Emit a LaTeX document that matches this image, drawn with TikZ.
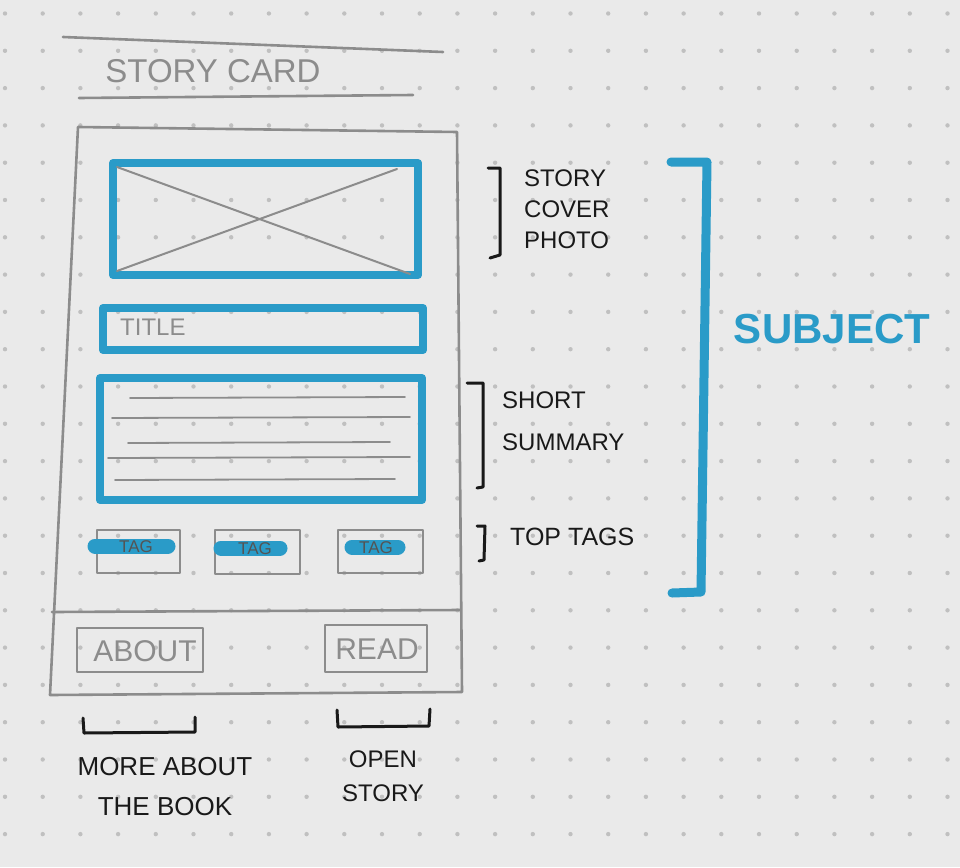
\documentclass[tikz,border=0pt]{standalone}
\usepackage{fontspec}
\setmainfont{Liberation Sans}
\definecolor{paper}{RGB}{234,234,234}
\definecolor{dotgray}{RGB}{192,192,192}
\definecolor{pencilgray}{RGB}{140,140,140}
\definecolor{markerblue}{RGB}{42,155,200}
\definecolor{inkblack}{RGB}{25,25,25}
\begin{document}
\begin{tikzpicture}[x=1pt,y=-1pt,
  pencil/.style={draw=pencilgray, line width=2.6pt, line cap=round, line join=round},
  thinpencil/.style={draw=pencilgray, line width=1.8pt, line cap=round},
  marker/.style={draw=markerblue, line width=8pt, line cap=round, line join=round},
  pen/.style={draw=inkblack, line width=3pt, line cap=round, line join=round},
  bluebox/.style={marker, rectangle, inner sep=0pt},
  graybox/.style={pencil, rectangle, inner sep=0pt},
  pencillabel/.style={text=pencilgray, inner sep=0pt},
  taglabel/.style={text=pencilgray!60!black, inner sep=0pt, font=\fontsize{17}{17}\selectfont},
  penlabel/.style={text=inkblack, inner sep=0pt, anchor=west, align=left,
    font=\fontsize{24}{31}\selectfont},
  highlight/.style={draw=markerblue, line width=15pt, line cap=round}
]
% paper
\fill[paper] (0,0) rectangle (960,867);
\useasboundingbox (0,0) rectangle (960,867);
% dot grid of the notebook page
\foreach \i in {0,...,25}
  \foreach \j in {0,...,23}
    \fill[dotgray] ({5+37.7*\i},{13.5+37.3*\j}) circle (2.2);

% heading
\draw[pencil] (63,37) -- (443,52);
\node[pencillabel, font=\fontsize{33}{33}\selectfont] (heading) at (213,71) {STORY CARD};
\draw[pencil] (79,98) -- (413,95);

% card outline and footer divider
\draw[pencil] (78,127) -- (457,132) -- (462,692) -- (50,695) -- cycle;
\draw[pencil] (52,612) -- (460,610);

% cover photo placeholder
\node[bluebox, minimum width=305pt, minimum height=112pt] (cover) at (265.5,219) {};
\draw[pencil, line width=2pt] ([shift={(8,8)}]cover.north west) -- ([shift={(-12,-5)}]cover.south east);
\draw[pencil, line width=2pt] ([shift={(8,-8)}]cover.south west) -- ([shift={(-25,10)}]cover.north east);

% title field
\node[bluebox, minimum width=320pt, minimum height=42pt] (title) at (263,329) {};
\node[pencillabel, font=\fontsize{24}{24}\selectfont, anchor=west] (titletext) at (120,327) {TITLE};

% summary block
\node[bluebox, minimum width=322pt, minimum height=122pt] (summary) at (261,439) {};
\draw[thinpencil] (130,398) -- (405,397);
\draw[thinpencil] (112,418) -- (410,417);
\draw[thinpencil] (128,443) -- (390,442);
\draw[thinpencil] (108,458) -- (410,457);
\draw[thinpencil] (115,480) -- (395,479);

% tags
\node[graybox, minimum width=83pt, minimum height=43pt] (tagA) at (138.5,551.5) {};
\node[graybox, minimum width=85pt, minimum height=44pt] (tagB) at (257.5,552) {};
\node[graybox, minimum width=85pt, minimum height=43pt] (tagC) at (380.5,551.5) {};
\draw[highlight] (95,546) -- (168,546);
\draw[highlight] (221,548) -- (280,548);
\draw[highlight] (352,547) -- (398,547);
\node[taglabel] (tagAtext) at (136,547) {TAG};
\node[taglabel] (tagBtext) at (255,549) {TAG};
\node[taglabel] (tagCtext) at (376,548) {TAG};

% footer buttons
\node[graybox, minimum width=126pt, minimum height=44pt] (about) at (140,650) {};
\node[pencillabel, font=\fontsize{30}{30}\selectfont] (abouttext) at (145,651) {ABOUT};
\node[graybox, minimum width=102pt, minimum height=47pt] (read) at (376,648.5) {};
\node[pencillabel, font=\fontsize{30}{30}\selectfont] (readtext) at (377,649) {READ};

% annotations on the right
\draw[pen] (488,168) -- (500,168) -- (500,255) -- (490,258);
\node[penlabel] (coverlabel) at (524,209) {STORY\\COVER\\PHOTO};
\draw[pen] (467,383) -- (483,383) -- (483,487) -- (477,488);
\node[penlabel, font=\fontsize{24}{42}\selectfont] (summarylabel) at (502,421) {SHORT\\SUMMARY};
\draw[pen] (477,526) -- (485,526) -- (484,560) -- (479,561);
\node[penlabel, font=\fontsize{25}{25}\selectfont] (tagslabel) at (510,537) {TOP TAGS};

% subject bracket
\draw[marker, line width=9pt] (671,162) -- (707,162) -- (701,592) -- (672,593);
\node[text=markerblue, font=\bfseries\fontsize{42}{42}\selectfont, inner sep=0pt] (subject) at (832,329) {SUBJECT};

% annotations below the buttons
\draw[pen] (83,718) -- (84,733) -- (195,732) -- (195,717);
\draw[pen] (337,710) -- (338,727) -- (429,726) -- (430,709);
\node[text=inkblack, font=\fontsize{26}{40}\selectfont, align=center, inner sep=0pt] (aboutlabel) at (165,787) {MORE ABOUT\\THE BOOK};
\node[text=inkblack, font=\fontsize{24}{34}\selectfont, align=center, inner sep=0pt] (readlabel) at (383,776) {OPEN\\STORY};
\end{tikzpicture}
\end{document}
